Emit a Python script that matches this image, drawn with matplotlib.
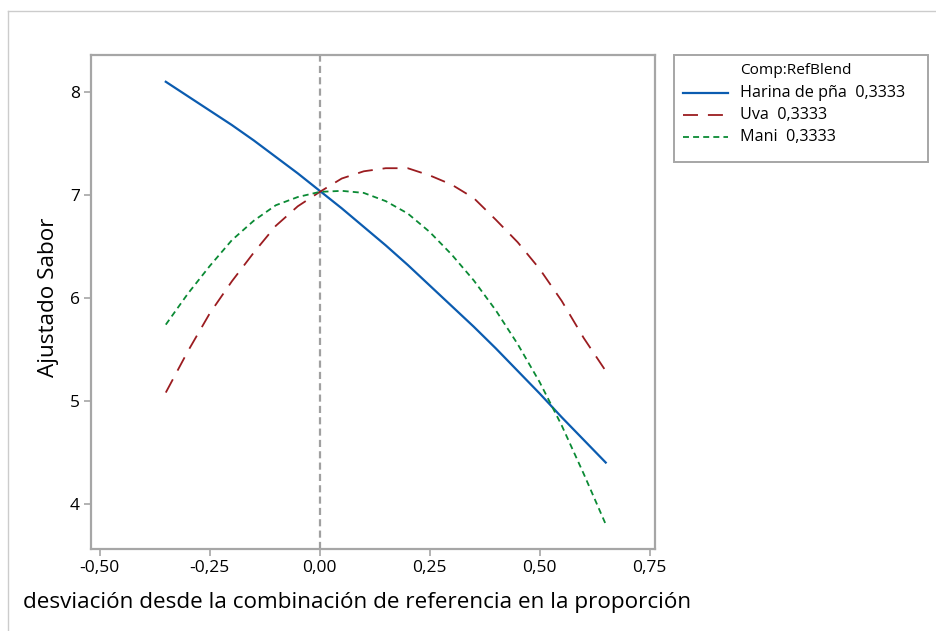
import matplotlib
matplotlib.use("Agg")
import matplotlib.pyplot as plt
from matplotlib.lines import Line2D
from matplotlib.patches import Rectangle

plt.rcParams['font.family'] = ['Open Sans', 'DejaVu Sans']

# Response trace: deviation from the reference blend
deviation = [-0.35, -0.30, -0.25, -0.20, -0.15, -0.10, -0.05, 0.00, 0.05, 0.10,
             0.15, 0.20, 0.25, 0.30, 0.35, 0.40, 0.45, 0.50, 0.55, 0.60, 0.65]

harina = [8.10, 7.96, 7.82, 7.68, 7.53, 7.37, 7.21, 7.04, 6.87, 6.69,
          6.51, 6.32, 6.12, 5.92, 5.72, 5.51, 5.29, 5.07, 4.84, 4.62, 4.40]
uva = [5.08, 5.48, 5.85, 6.16, 6.44, 6.70, 6.89, 7.03, 7.16, 7.23,
       7.26, 7.26, 7.19, 7.10, 6.97, 6.76, 6.54, 6.28, 5.97, 5.61, 5.29]
mani = [5.74, 6.04, 6.31, 6.56, 6.75, 6.90, 6.98, 7.03, 7.04, 7.02,
        6.94, 6.82, 6.64, 6.42, 6.17, 5.88, 5.55, 5.18, 4.76, 4.29, 3.80]

components = ["Harina de pña", "Uva", "Mani"]
ref_blend = ["0,3333", "0,3333", "0,3333"]
legend_title = "Comp:RefBlend"

x_ticks = [-0.50, -0.25, 0.00, 0.25, 0.50, 0.75]
x_tick_labels = ["-0,50", "-0,25", "0,00", "0,25", "0,50", "0,75"]
y_ticks = [4, 5, 6, 7, 8]
y_tick_labels = ["4", "5", "6", "7", "8"]

colors = ["#0b5cb0", "#9b1c20", "#0a8a34"]
dashes = [None, (8.3, 5.5), (3.3, 2.3)]
widths = [1.6, 1.3, 1.3]

W, H = 937, 631
fig = plt.figure(figsize=(W / 100, H / 100), dpi=100)
fig.patch.set_facecolor("white")

# outer panel border
fig.add_artist(Line2D([8 / W, 8 / W], [0, 1 - 11 / H], transform=fig.transFigure,
                      color="#cccccc", lw=1.0))
fig.add_artist(Line2D([8 / W, 1], [1 - 11 / H, 1 - 11 / H], transform=fig.transFigure,
                      color="#cccccc", lw=1.0))

ax_l, ax_r, ax_t, ax_b = 91, 655, 55, 549
ax = fig.add_axes([ax_l / W, 1 - ax_b / H, (ax_r - ax_l) / W, (ax_b - ax_t) / H])
ax.set_xlim(-0.52, 0.762)
ax.set_ylim(3.56, 8.36)

ax.axvline(0, color="#a0a0a0", lw=1.6, dashes=(3.2, 1.9), zorder=1)

for series, col, dsh, lw in zip([harina, uva, mani], colors, dashes, widths):
    if dsh is None:
        ax.plot(deviation, series, color=col, lw=lw, zorder=3)
    else:
        ax.plot(deviation, series, color=col, lw=lw, dashes=dsh, zorder=3)

ax.set_xticks(x_ticks)
ax.set_xticklabels(x_tick_labels)
ax.set_yticks(y_ticks)
ax.set_yticklabels(y_tick_labels)
for s in ["top", "right", "left", "bottom"]:
    ax.spines[s].set_color("#a6a6a6")
    ax.spines[s].set_linewidth(1.6)
ax.tick_params(axis="both", which="major", direction="out", length=5, width=1.2,
               color="#a6a6a6", labelsize=12.5, labelcolor="#000000", pad=3)
ax.tick_params(top=False, right=False)

ax.set_xlabel("desviación desde la combinación de referencia en la proporción",
              fontsize=16.2, color="#000000")
ax.xaxis.set_label_coords(0.4716, -0.087)
ax.set_ylabel("Ajustado Sabor", fontsize=16.2, color="#000000")
ax.yaxis.set_label_coords(-0.056, 0.51)

# legend panel
lg_l, lg_r, lg_t, lg_b = 674, 928, 55, 162
fig.add_artist(Rectangle((lg_l / W, 1 - lg_b / H), (lg_r - lg_l) / W, (lg_b - lg_t) / H,
                         transform=fig.transFigure, facecolor="white",
                         edgecolor="#a6a6a6", lw=1.4))
fig.text(740 / W, 1 - 71 / H, legend_title, fontsize=11.1, color="#000000",
         va="center", ha="left")
row_y = [93, 115, 137]
for name, val, col, dsh, lw, ry in zip(components, ref_blend, colors, dashes, widths, row_y):
    yy = 1 - ry / H
    kw = dict(color=col, lw=lw, transform=fig.transFigure)
    if dsh is not None:
        kw["dashes"] = dsh
    fig.add_artist(Line2D([683 / W, 728 / W], [yy, yy], **kw))
    fig.text(740 / W, yy, f"{name}  {val}", fontsize=11.6, color="#000000",
             va="center", ha="left")

fig.savefig("out.png", dpi=100, facecolor="white")
